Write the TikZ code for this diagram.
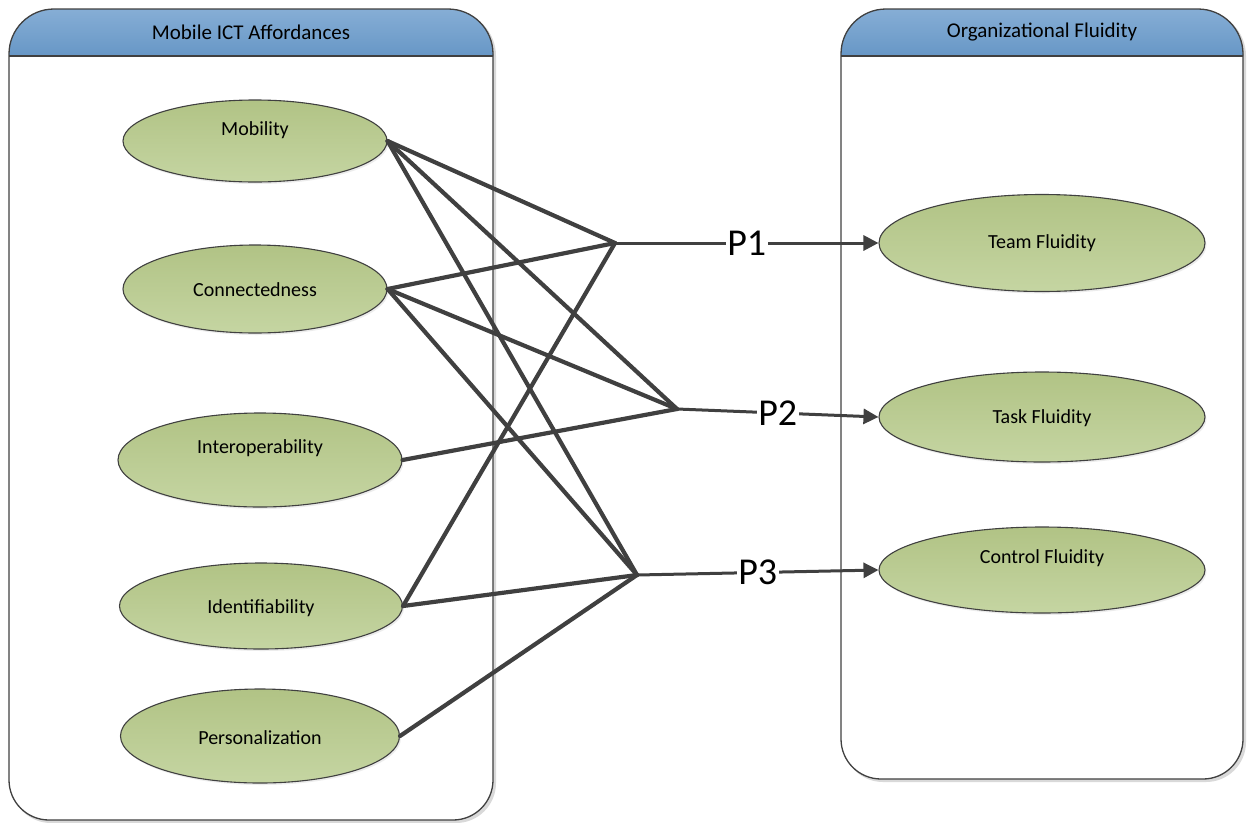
\documentclass[tikz,border=0pt]{standalone}
\usepackage{fontspec}
\setmainfont{Carlito}
\usetikzlibrary{arrows.meta,shapes.geometric,shadows}
\definecolor{edgec}{HTML}{404040}
\definecolor{hdtop}{HTML}{8CB2D8}
\definecolor{hdbot}{HTML}{6797C6}
\definecolor{eltop}{HTML}{B1C385}
\definecolor{elbot}{HTML}{C5D5A2}
\tikzset{
  boxline/.style={draw=edgec, line width=1.3pt},
  ell/.style={ellipse, draw=edgec, line width=1.1pt, top color=eltop, bottom color=elbot,
    inner sep=0pt, drop shadow={shadow xshift=1.5pt, shadow yshift=-2pt, opacity=0.15}},
  elltext/.style={font=\fontsize{20}{24}\selectfont, text=black},
  headtext/.style={font=\fontsize{21}{25}\selectfont, text=black},
  conn/.style={draw=edgec, line width=4.2pt, line cap=round, line join=round},
  parrow/.style={draw=edgec, line width=3pt, -{Triangle[length=15pt,width=15pt]}},
  plabel/.style={fill=white, inner sep=1.5pt, font=\fontsize{38}{42}\selectfont, text=black},
}
\begin{document}
\begin{tikzpicture}[x=1pt,y=-1pt]
\useasboundingbox (0,0) rectangle (1249,822);

% left container
\path[fill=black!15] (11,400) [rounded corners=45pt] |- (253,11) -| (496,400) [rounded corners=40pt] |- (253,823) -| (11,400) -- cycle;
\path[fill=white] (9,400) [rounded corners=45pt] |- (251,9) -| (493,400) [rounded corners=40pt] |- (251,820) -| (9,400) -- cycle;
\begin{scope}
  \clip (9,400) [rounded corners=45pt] |- (251,9) -| (493,400) [rounded corners=40pt] |- (251,820) -| (9,400) -- cycle;
  \fill[top color=hdtop, bottom color=hdbot] (0,0) rectangle (500,56);
\end{scope}
\draw[boxline] (9,56) -- (493,56);
\draw[boxline] (9,400) [rounded corners=45pt] |- (251,9) -| (493,400) [rounded corners=40pt] |- (251,820) -| (9,400) -- cycle;
\node[headtext] (lhead) at (251,32) {Mobile ICT Affordances};

% right container
\path[fill=black!15] (843,400) [rounded corners=45pt] |- (1043,11) -| (1246,400) [rounded corners=40pt] |- (1043,782) -| (843,400) -- cycle;
\path[fill=white] (841,400) [rounded corners=45pt] |- (1042,9) -| (1243,400) [rounded corners=40pt] |- (1042,779) -| (841,400) -- cycle;
\begin{scope}
  \clip (841,400) [rounded corners=45pt] |- (1042,9) -| (1243,400) [rounded corners=40pt] |- (1042,779) -| (841,400) -- cycle;
  \fill[top color=hdtop, bottom color=hdbot] (830,0) rectangle (1249,56);
\end{scope}
\draw[boxline] (841,56) -- (1243,56);
\draw[boxline] (841,400) [rounded corners=45pt] |- (1042,9) -| (1243,400) [rounded corners=40pt] |- (1042,779) -| (841,400) -- cycle;
\node[headtext] (rhead) at (1042,32) {Organizational Fluidity};

% left ellipses
\node[ell, minimum width=264pt, minimum height=82pt,
  label={[elltext, yshift=11pt]center:Mobility}] (mob) at (255,141) {};
\node[ell, minimum width=264pt, minimum height=88pt,
  label={[elltext, yshift=-1pt]center:Connectedness}] (con) at (255,289) {};
\node[ell, minimum width=284pt, minimum height=94pt,
  label={[elltext, yshift=12pt]center:Interoperability}] (int) at (260,460) {};
\node[ell, minimum width=283pt, minimum height=86pt,
  label={[elltext, yshift=-2pt]center:Identifiability}] (ide) at (261,606) {};
\node[ell, minimum width=279pt, minimum height=94pt,
  label={[elltext, yshift=-2pt]center:Personalization}] (per) at (260,736) {};

% right ellipses
\node[ell, minimum width=326pt, minimum height=97pt,
  label={[elltext]center:Team Fluidity}] (team) at (1042,243) {};
\node[ell, minimum width=326pt, minimum height=90pt,
  label={[elltext, yshift=-1pt]center:Task Fluidity}] (task) at (1042,417) {};
\node[ell, minimum width=326pt, minimum height=86pt,
  label={[elltext, yshift=12pt]center:Control Fluidity}] (ctrl) at (1042,570) {};

% hubs
\coordinate (h1) at (615,243);
\coordinate (h2) at (677,409);
\coordinate (h3) at (637,575);

% connectors
\draw[conn] (mob.east) -- (h1);
\draw[conn] (mob.east) -- (h2);
\draw[conn] (mob.east) -- (h3);
\draw[conn] (con.east) -- (h1);
\draw[conn] (con.east) -- (h2);
\draw[conn] (con.east) -- (h3);
\draw[conn] (int.east) -- (h2);
\draw[conn] (ide.east) -- (h1);
\draw[conn] (ide.east) -- (h3);
\draw[conn] (per.east) -- (h3);

% proposition arrows
\draw[parrow] (h1) -- node[plabel] {P1} (team.west);
\draw[parrow] (h2) -- node[plabel] {P2} (task.west);
\draw[parrow] (h3) -- node[plabel] {P3} (ctrl.west);
\end{tikzpicture}
\end{document}
